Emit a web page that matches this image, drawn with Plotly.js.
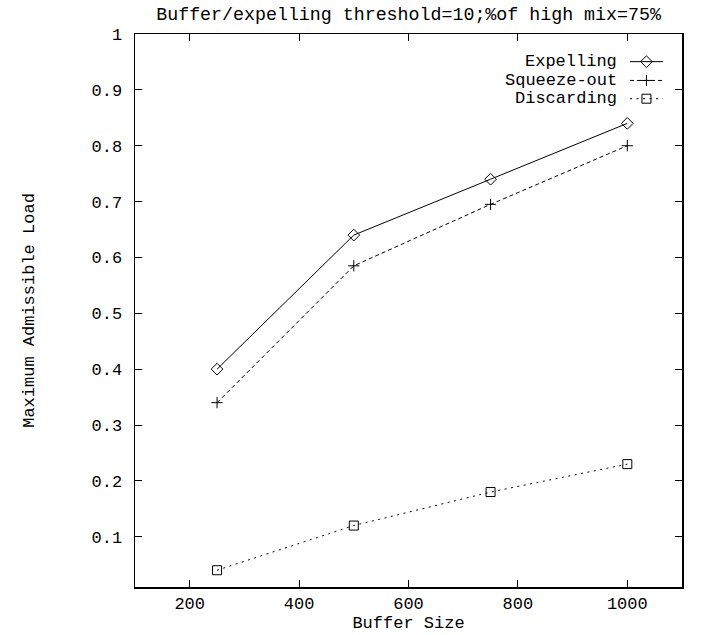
<!DOCTYPE html>
<html>
<head>
<meta charset="utf-8">
<script src="https://cdn.plot.ly/plotly-3.0.1.min.js"></script>
<style>html,body{margin:0;padding:0;background:#fff;}#chart{width:702px;height:635px;}</style>
</head>
<body>
<div id="chart"></div>
<script>
// Data
const bufferSizes = [250, 500, 750, 1000];
const expelling = [0.40, 0.64, 0.74, 0.84];
const squeezeOut = [0.34, 0.585, 0.695, 0.80];
const discarding = [0.04, 0.12, 0.18, 0.23];
const seriesNames = ["Expelling", "Squeeze-out", "Discarding"];
const xTicks = [200, 400, 600, 800, 1000];
const yTicks = [0.1, 0.2, 0.3, 0.4, 0.5, 0.6, 0.7, 0.8, 0.9, 1];

const FONT = "Liberation Mono, Courier New, monospace";
const FS = 17;

const styles = [
  {dash: "solid", symbol: "diamond-open", size: 9},
  {dash: "4px,3px", symbol: "cross-thin-open", size: 8},
  {dash: "2px,4.5px", symbol: "square-open", size: 9}
];
const seriesData = [expelling, squeezeOut, discarding];

const traces = seriesData.map((ys, i) => ({
  x: bufferSizes, y: ys, name: seriesNames[i],
  mode: "lines+markers", type: "scatter",
  line: {color: "#000", width: 1, dash: styles[i].dash},
  marker: {symbol: styles[i].symbol, size: styles[i].size, color: "#000", line: {color: "#000", width: 1}},
  showlegend: false, hoverinfo: "skip"
}));

// custom gnuplot-style key (sample to the right of text) on overlay axes
const keyY = [0.950, 0.916, 0.883];
const annotations = [];
seriesNames.forEach((n, i) => {
  traces.push({
    x: [0.905, 0.965], y: [keyY[i], keyY[i]], xaxis: "x2", yaxis: "y2",
    mode: "lines", line: {color: "#000", width: 1, dash: styles[i].dash},
    showlegend: false, hoverinfo: "skip"
  });
  traces.push({
    x: [0.935], y: [keyY[i]], xaxis: "x2", yaxis: "y2",
    mode: "markers",
    marker: {symbol: styles[i].symbol, size: styles[i].size, color: "#000", line: {color: "#000", width: 1}},
    showlegend: false, hoverinfo: "skip"
  });
  annotations.push({
    xref: "x2", yref: "y2", x: 0.884, y: keyY[i], xanchor: "right", yanchor: "middle",
    text: n, showarrow: false, font: {family: FONT, size: FS, color: "#000"}
  });
});

const layout = {
  width: 702, height: 635,
  margin: {l: 135, r: 20, t: 34, b: 48},
  paper_bgcolor: "#fff", plot_bgcolor: "#fff",
  font: {family: FONT, size: FS, color: "#000"},
  title: {text: "Buffer/expelling threshold=10;%of high mix=75%", x: 0.582, xanchor: "center", y: 0.978, yanchor: "middle",
          font: {family: FONT, size: 18.3, color: "#000"}},
  xaxis: {
    range: [100, 1100], tickvals: xTicks, ticktext: xTicks.map(String),
    ticks: "inside", ticklen: 7, tickwidth: 1, tickcolor: "#000",
    showline: true, linecolor: "#000", linewidth: 1.5, mirror: "ticks",
    showgrid: false, zeroline: false,
    title: {text: "Buffer Size", font: {family: FONT, size: FS}, standoff: 0},
    tickfont: {family: FONT, size: FS}
  },
  yaxis: {
    range: [0.01, 1], tickvals: yTicks, ticktext: yTicks.map(v => String(v)),
    ticks: "inside", ticklen: 7, tickwidth: 1, tickcolor: "#000",
    showline: true, linecolor: "#000", linewidth: 1.5, mirror: "ticks",
    showgrid: false, zeroline: false, ticklabelstandoff: 8,
    title: {text: "Maximum Admissible Load", font: {family: FONT, size: FS}, standoff: 52},
    tickfont: {family: FONT, size: FS}
  },
  xaxis2: {overlaying: "x", range: [0, 1], visible: false, fixedrange: true, anchor: "y2"},
  yaxis2: {overlaying: "y", range: [0, 1], visible: false, fixedrange: true, anchor: "x2"},
  annotations: annotations,
  showlegend: false
};

Plotly.newPlot("chart", traces, layout, {displayModeBar: false, staticPlot: true});
</script>
</body>
</html>
